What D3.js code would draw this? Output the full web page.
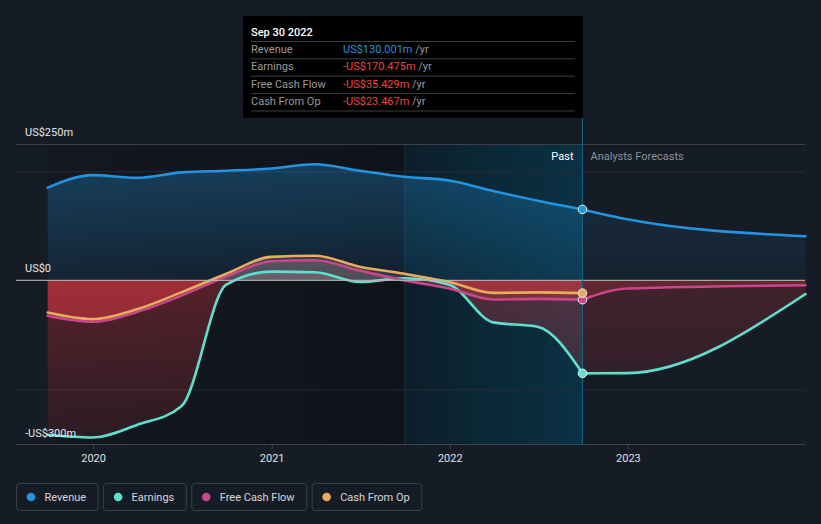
<!DOCTYPE html>
<html><head><meta charset="utf-8">
<script src="https://cdn.jsdelivr.net/npm/d3@7"></script>
<style>html,body{margin:0;padding:0;background:#161c26;}svg{display:block;font-family:Roboto,'Noto Sans',sans-serif;}</style>
</head><body><svg id="c" width="821" height="524"></svg>
<script>
// ---- data ----
const pastDates = ["2019-09-30","2019-12-31","2020-03-31","2020-06-30","2020-09-30","2020-12-31","2021-03-31","2021-06-30","2021-09-30","2021-12-31","2022-03-31","2022-06-30","2022-09-30"];
const revenuePast  = [170, 193, 188, 198, 201, 205, 213, 201, 190, 183, 164, 146, 130.001];
const earningsPast = [-283, -288, -265, -231, -8, 16, 15, -3, 4, -8, -77, -85, -170.475];
const fcfPast      = [-65, -76, -58, -28, 7, 35, 37, 18, 0, -15, -35, -34, -35.429];
const cfoPast      = [-59, -71, -53, -22, 12, 43, 45, 25, 12, -3, -23, -22, -23.467];

const fcDates = ["2022-09-30","2022-12-31","2023-12-31"];
const revenueFc  = [130.001, 112, 81];
const earningsFc = [-170.475, -170, -25];
const fcfFc      = [-35.429, -15, -9];

const yLabelTicks = [250, 0, -300];
const yGridTicks = [200, -200];
const xTickDates = ["2020-01-01","2021-01-01","2022-01-01","2023-01-01"];
const xTickLabels = ["2020","2021","2022","2023"];

const seriesNames = ["Revenue","Earnings","Free Cash Flow","Cash From Op"];
const seriesColors = ["#2394df","#5fe0cf","#c9468b","#e8ad5c"];
const tooltipDate = "Sep 30 2022";
const tooltipValues = ["US$130.001m","-US$170.475m","-US$35.429m","-US$23.467m"];
const pastStart = "2019-09-30", bandStart = "2021-09-30", nowDate = "2022-09-30";

// ---- setup ----
const P = d3.timeParse("%Y-%m-%d");
const svg = d3.select("#c");
const x = d3.scaleTime().domain([new Date(2019,6,27), new Date(2023,11,30)]).range([16,805]);
const y = d3.scaleLinear().domain([-300,250]).range([444,144]);
const y0 = y(0);
const defs = svg.append("defs");

function lg(id, x1,y1,x2,y2, stops){
  const g = defs.append("linearGradient").attr("id",id).attr("gradientUnits","userSpaceOnUse")
    .attr("x1",x1).attr("y1",y1).attr("x2",x2).attr("y2",y2);
  stops.forEach(s=>g.append("stop").attr("offset",s[0]).attr("stop-color",s[1]).attr("stop-opacity",s[2]));
}
lg("revG",0,y(250),0,y0,[[0,"#2394df",0.36],[1,"#2394df",0.10]]);
lg("revGf",0,y(250),0,y0,[[0,"#2394df",0.16],[1,"#2394df",0.05]]);
lg("negG",0,y0,0,y(-300),[[0,"#dc3741",0.34],[1,"#dc3741",0.12]]);
lg("negGf",0,y0,0,y(-300),[[0,"#dc3741",0.22],[1,"#dc3741",0.08]]);
lg("posG",0,y(250),0,y0,[[0,"#ffc8c8",0.20],[1,"#ffc8c8",0.14]]);
lg("darkG",x(P(pastStart)),0,x(P(bandStart)),0,[[0,"#131821",1],[1,"#0f1319",1]]);
lg("bandG",x(P(bandStart)),0,x(P(nowDate)),0,[[0,"#0c1f2a",1],[1,"#0a3244",1]]);

defs.append("clipPath").attr("id","cpPos").append("rect").attr("x",0).attr("y",y(250)).attr("width",821).attr("height",y0-y(250));
defs.append("clipPath").attr("id","cpNeg").append("rect").attr("x",0).attr("y",y0).attr("width",821).attr("height",y(-300)-y0);

svg.append("rect").attr("width",821).attr("height",524).attr("fill","#161c26");

// background regions
svg.append("rect").attr("x",x(P(pastStart))).attr("y",y(250)).attr("width",x(P(bandStart))-x(P(pastStart))).attr("height",y(-300)-y(250)).attr("fill","url(#darkG)");
svg.append("rect").attr("x",x(P(bandStart))).attr("y",y(250)).attr("width",x(P(nowDate))-x(P(bandStart))).attr("height",y(-300)-y(250)).attr("fill","url(#bandG)");
svg.append("line").attr("x1",x(P(bandStart))).attr("x2",x(P(bandStart))).attr("y1",y(250)).attr("y2",y(-300)).attr("stroke","#1c3a48").attr("stroke-width",1).attr("opacity",0.6);

// grid
svg.selectAll(".g").data(yGridTicks).enter().append("line")
  .attr("x1",16).attr("x2",805).attr("y1",d=>y(d)+0.5).attr("y2",d=>y(d)+0.5).attr("stroke","#262c36");
svg.append("line").attr("x1",16).attr("x2",805).attr("y1",y(250)+0.5).attr("y2",y(250)+0.5).attr("stroke","#3b4049");

// series
const mk = (dates, vals) => dates.map((d,i)=>({d:P(d), v:vals[i]}));
const past = [mk(pastDates,revenuePast), mk(pastDates,earningsPast), mk(pastDates,fcfPast), mk(pastDates,cfoPast)];
const fc = [mk(fcDates,revenueFc), mk(fcDates,earningsFc), mk(fcDates,fcfFc), null];

const area = d3.area().x(d=>x(d.d)).y0(y0).y1(d=>y(d.v)).curve(d3.curveMonotoneX);
const line = d3.line().x(d=>x(d.d)).y(d=>y(d.v)).curve(d3.curveMonotoneX);

// areas
[0,1,2,3].forEach(i=>{
  [[past[i],false],[fc[i],true]].forEach(([data,isF])=>{
    if(!data) return;
    if(i===0){
      svg.append("path").attr("d",area(data)).attr("fill",isF?"url(#revGf)":"url(#revG)").attr("clip-path","url(#cpPos)");
    } else {
      svg.append("path").attr("d",area(data)).attr("fill",isF?"url(#negGf)":"url(#negG)").attr("clip-path","url(#cpNeg)");
      svg.append("path").attr("d",area(data)).attr("fill","url(#posG)").attr("clip-path","url(#cpPos)");
    }
  });
});

// lines
[1,2,3,0].forEach(i=>{
  [past[i],fc[i]].forEach(data=>{
    if(!data) return;
    svg.append("path").attr("d",line(data)).attr("fill","none").attr("stroke",seriesColors[i]).attr("stroke-width",2.6).attr("stroke-linecap","round");
  });
});

// zero line
svg.append("line").attr("x1",16).attr("x2",805).attr("y1",y0).attr("y2",y0).attr("stroke","#b8b8b8").attr("stroke-width",1.3).attr("opacity",0.85);

// now line
const xn = x(P(nowDate));
svg.append("line").attr("x1",xn).attr("x2",xn).attr("y1",118).attr("y2",y(-300)).attr("stroke","#1a6482").attr("stroke-width",1);

// markers
[0,1,2,3].forEach(i=>{
  const last = past[i][past[i].length-1];
  svg.append("circle").attr("cx",x(last.d)).attr("cy",y(last.v)).attr("r",4.3)
    .attr("fill",seriesColors[i]).attr("stroke","#e8eef2").attr("stroke-width",1);
});

// y labels
svg.selectAll(".yl").data(yLabelTicks).enter().append("text")
  .attr("x",25).attr("y",d=> d===-300 ? y(d)-7 : y(d)-8)
  .attr("fill","#e6e6e6").attr("font-size",11).text(d=> d===0 ? "US$0" : (d<0?"-":"")+"US$"+Math.abs(d)+"m");

// Past / forecasts
svg.append("text").attr("x",xn-9).attr("y",160).attr("text-anchor","end").attr("fill","#ffffff").attr("font-size",11).text("Past");
svg.append("text").attr("x",xn+8).attr("y",160).attr("fill","#8b9099").attr("font-size",11).text("Analysts Forecasts");

// x axis
const xa = svg.append("g").attr("transform",`translate(0,${y(-300)})`)
  .call(d3.axisBottom(x).tickValues(xTickDates.map(P)).tickFormat((d,i)=>xTickLabels[i]).tickSize(5).tickPadding(5));
xa.select(".domain").remove();
xa.selectAll("line").attr("stroke","#3e434c");
xa.selectAll("text").attr("fill","#e0e0e0").attr("font-size",11).attr("font-family","Roboto,'Noto Sans',sans-serif");
svg.append("line").attr("x1",16).attr("x2",805).attr("y1",y(-300)+0.5).attr("y2",y(-300)+0.5).attr("stroke","#3e434c");

// tooltip
const tt = svg.append("g");
tt.append("rect").attr("x",243).attr("y",16).attr("width",340).attr("height",102).attr("fill","#000");
tt.append("text").attr("x",251).attr("y",35.5).attr("fill","#fff").attr("font-size",11).attr("font-weight",500).text(tooltipDate);
[41.5,58.8,76.2,93.6,111].forEach(yy=>tt.append("line").attr("x1",251).attr("x2",575).attr("y1",yy).attr("y2",yy).attr("stroke","#3c3c3c"));
seriesNames.forEach((n,i)=>{
  const by = 53 + i*17.4;
  tt.append("text").attr("x",251).attr("y",by).attr("fill","#9a9a9a").attr("font-size",11).text(n);
  const t = tt.append("text").attr("x",343).attr("y",by).attr("font-size",11);
  t.append("tspan").attr("fill", i===0 ? "#2394df" : "#f0433f").text(tooltipValues[i]);
  t.append("tspan").attr("fill","#9a9a9a").text(" /yr");
});

// legend
let lx = 16.5;
seriesNames.forEach((n,i)=>{
  const g = svg.append("g");
  const r = g.append("rect").attr("x",lx).attr("y",483.5).attr("height",27).attr("rx",3).attr("fill","none").attr("stroke","#3a404a");
  g.append("circle").attr("cx",lx+14.5).attr("cy",497).attr("r",4.3).attr("fill",seriesColors[i]);
  const t = g.append("text").attr("x",lx+28).attr("y",501).attr("fill","#d8d8d8").attr("font-size",11).text(n);
  const w = t.node().getComputedTextLength() + 28 + 12;
  r.attr("width",w);
  lx += w + 5.5;
});
</script></body></html>
